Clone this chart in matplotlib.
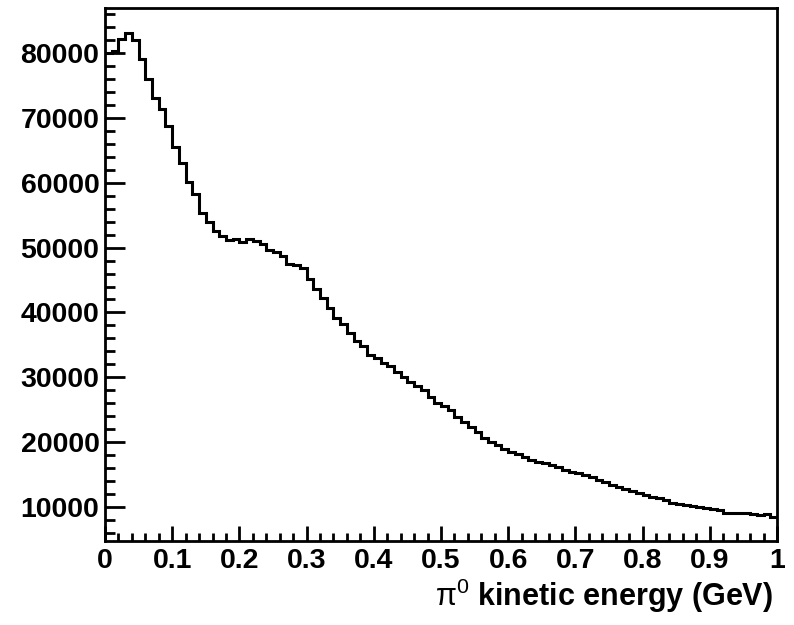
import numpy as np
import matplotlib
matplotlib.use("Agg")
import matplotlib.pyplot as plt
from matplotlib.ticker import MultipleLocator, FixedLocator

# ---- data ----
bin_edges = np.linspace(0.0, 1.0, 101)
counts = [
    80000, 80300, 82100, 83000, 82000, 79000, 75900, 73100, 71400, 68700,
    65500, 63000, 60100, 58200, 55300, 53900, 52600, 51850, 51100, 51250,
    50800, 51250, 51000, 50550, 49700, 49250, 48650, 47450, 47300, 46850,
    45150, 43600, 42300, 40750, 39200, 38150, 36900, 35600, 34800, 33500,
    33000, 32200, 31700, 30900, 30100, 29300, 28600, 28100, 27050, 26000,
    25600, 25000, 23950, 23200, 22400, 21650, 20600, 20100, 19600, 18900,
    18550, 18150, 17750, 17250, 17000, 16850, 16500, 16250, 15800, 15450,
    15200, 14950, 14700, 14200, 13900, 13400, 13100, 12800, 12450, 12150,
    11850, 11550, 11350, 11050, 10650, 10450, 10350, 10250, 10100, 9950,
    9750, 9650, 9150, 9150, 9150, 9100, 8950, 8800, 9000, 8550,
]
x_ticks = [0, 0.1, 0.2, 0.3, 0.4, 0.5, 0.6, 0.7, 0.8, 0.9, 1.0]
x_tick_labels = ["0", "0.1", "0.2", "0.3", "0.4", "0.5", "0.6", "0.7", "0.8", "0.9", "1"]
y_ticks = [10000, 20000, 30000, 40000, 50000, 60000, 70000, 80000]
x_label = r"$\mathrm{\pi}^{\mathrm{0}}$ kinetic energy (GeV)"

plt.rcParams['font.family'] = ['Liberation Sans', 'DejaVu Sans']
plt.rcParams['mathtext.fontset'] = 'custom'
plt.rcParams['mathtext.rm'] = 'Liberation Sans'
plt.rcParams['mathtext.it'] = 'Liberation Sans:italic'
plt.rcParams['mathtext.bf'] = 'Liberation Sans:bold'

fig = plt.figure(figsize=(7.94, 6.25), dpi=100)
ax = fig.add_axes([105/794, 1 - 541/625, (777 - 105)/794, (541 - 8)/625])

ax.stairs(counts, bin_edges, baseline=None, color='black', linewidth=2.2)

ax.set_xlim(0, 1)
ax.set_ylim(4800, 86900)

ax.xaxis.set_major_locator(FixedLocator(x_ticks))
ax.set_xticklabels(x_tick_labels)
ax.xaxis.set_minor_locator(MultipleLocator(0.02))
ax.yaxis.set_major_locator(FixedLocator(y_ticks))
ax.yaxis.set_minor_locator(MultipleLocator(2000))

ax.tick_params(axis='both', which='both', direction='in', top=False, right=False, width=2)
ax.tick_params(axis='x', which='major', length=10.8, pad=5)
ax.tick_params(axis='x', which='minor', length=5.5)
ax.tick_params(axis='y', which='major', length=14.4, pad=4)
ax.tick_params(axis='y', which='minor', length=7.2)

for lab in ax.get_xticklabels() + ax.get_yticklabels():
    lab.set_fontsize(20.5)
    lab.set_fontweight('bold')

for sp in ax.spines.values():
    sp.set_linewidth(2)

fig.text(773/794, 1 - 606/625, x_label, ha='right', va='baseline',
         fontsize=22, fontweight='bold')

fig.savefig("out.png", dpi=100)
